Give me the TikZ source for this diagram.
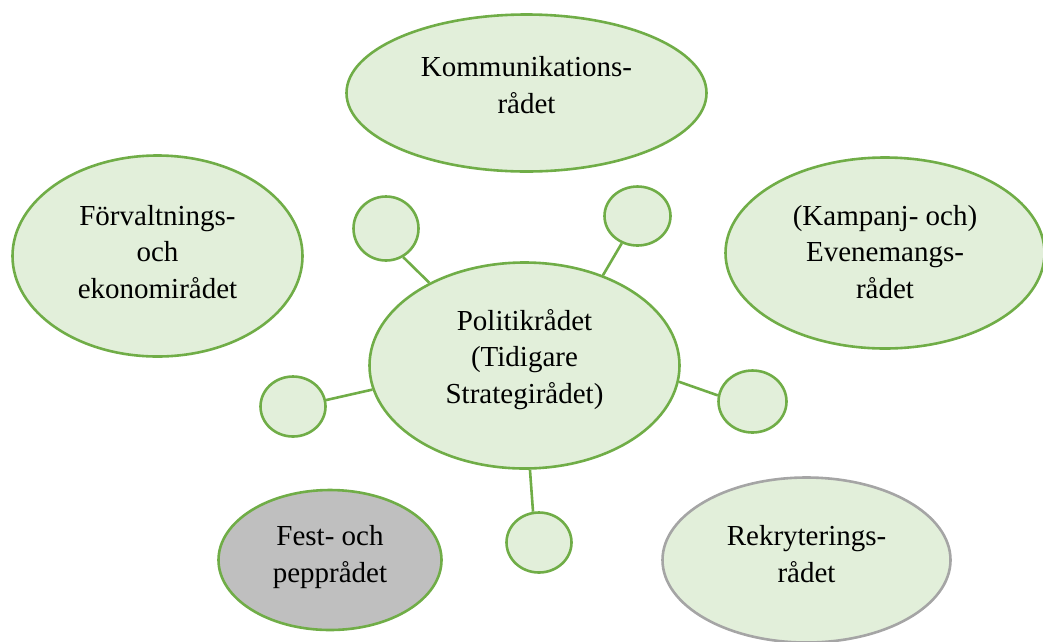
\documentclass[tikz,border=0pt]{standalone}
\usepackage{fontspec}
\setmainfont{Liberation Serif}
\usetikzlibrary{shapes.geometric}
\definecolor{gfill}{HTML}{E2EFDA}
\definecolor{gline}{HTML}{70AD47}
\definecolor{grayfill}{HTML}{BFBFBF}
\definecolor{grayline}{HTML}{A5A5A5}
\begin{document}
\begin{tikzpicture}[x=1pt,y=-1pt,
  bubble/.style={ellipse, draw=gline, fill=gfill, line width=2.6pt, inner sep=0pt},
  txt/.style={inner sep=0pt, align=center, font=\fontsize{29}{36.5}\selectfont},
  dot/.style={ellipse, draw=gline, fill=gfill, line width=2.6pt, inner sep=0pt},
  link/.style={draw=gline, line width=2.6pt}]
\useasboundingbox (0,0) rectangle (1043,641);
\node[bubble, minimum width=360pt, minimum height=157pt] (kom) at (526.5,93) {};
\node[txt] (komt) at ([yshift=8pt]kom.center) {Kommunikations-\\rådet};
\node[bubble, minimum width=290pt, minimum height=201pt] (forv) at (157.5,256) {};
\node[txt] (forvt) at ([yshift=4pt]forv.center) {Förvaltnings-\\och\\ekonomirådet};
\node[bubble, minimum width=319pt, minimum height=191pt] (kamp) at (885,253) {};
\node[txt] (kampt) at ([yshift=1pt]kamp.center) {(Kampanj- och)\\Evenemangs-\\rådet};
\node[bubble, minimum width=310pt, minimum height=206pt] (pol) at (524.5,365.5) {};
\node[txt] (polt) at ([yshift=6pt]pol.center) {Politikrådet\\(Tidigare\\Strategirådet)};
\node[bubble, fill=grayfill, minimum width=223pt, minimum height=140pt] (fest) at (330,560) {};
\node[txt] (festt) at ([yshift=3pt]fest.center) {Fest- och\\pepprådet};
\node[bubble, draw=grayline, minimum width=288pt, minimum height=165pt] (rekr) at (806.5,560) {};
\node[txt] (rekrt) at ([yshift=6pt]rekr.center) {Rekryterings-\\rådet};
\node[dot, minimum width=65pt, minimum height=64pt] (c1) at (386,228.5) {};
\node[dot, minimum width=66pt, minimum height=59pt] (c2) at (637.5,216) {};
\node[dot, minimum width=65pt, minimum height=60pt] (c3) at (293,406.5) {};
\node[dot, minimum width=68pt, minimum height=62pt] (c4) at (752.5,401.5) {};
\node[dot, minimum width=65pt, minimum height=60pt] (c5) at (539,542.5) {};
\draw[link] (pol.139) -- (c1.-59);
\draw[link] (pol.49) -- (c2.240);
\draw[link] (pol.189.5) -- (c3.11);
\draw[link] (pol.-6.4) -- (c4.170);
\draw[link] (pol.-87) -- (c5.101);
\end{tikzpicture}
\end{document}
